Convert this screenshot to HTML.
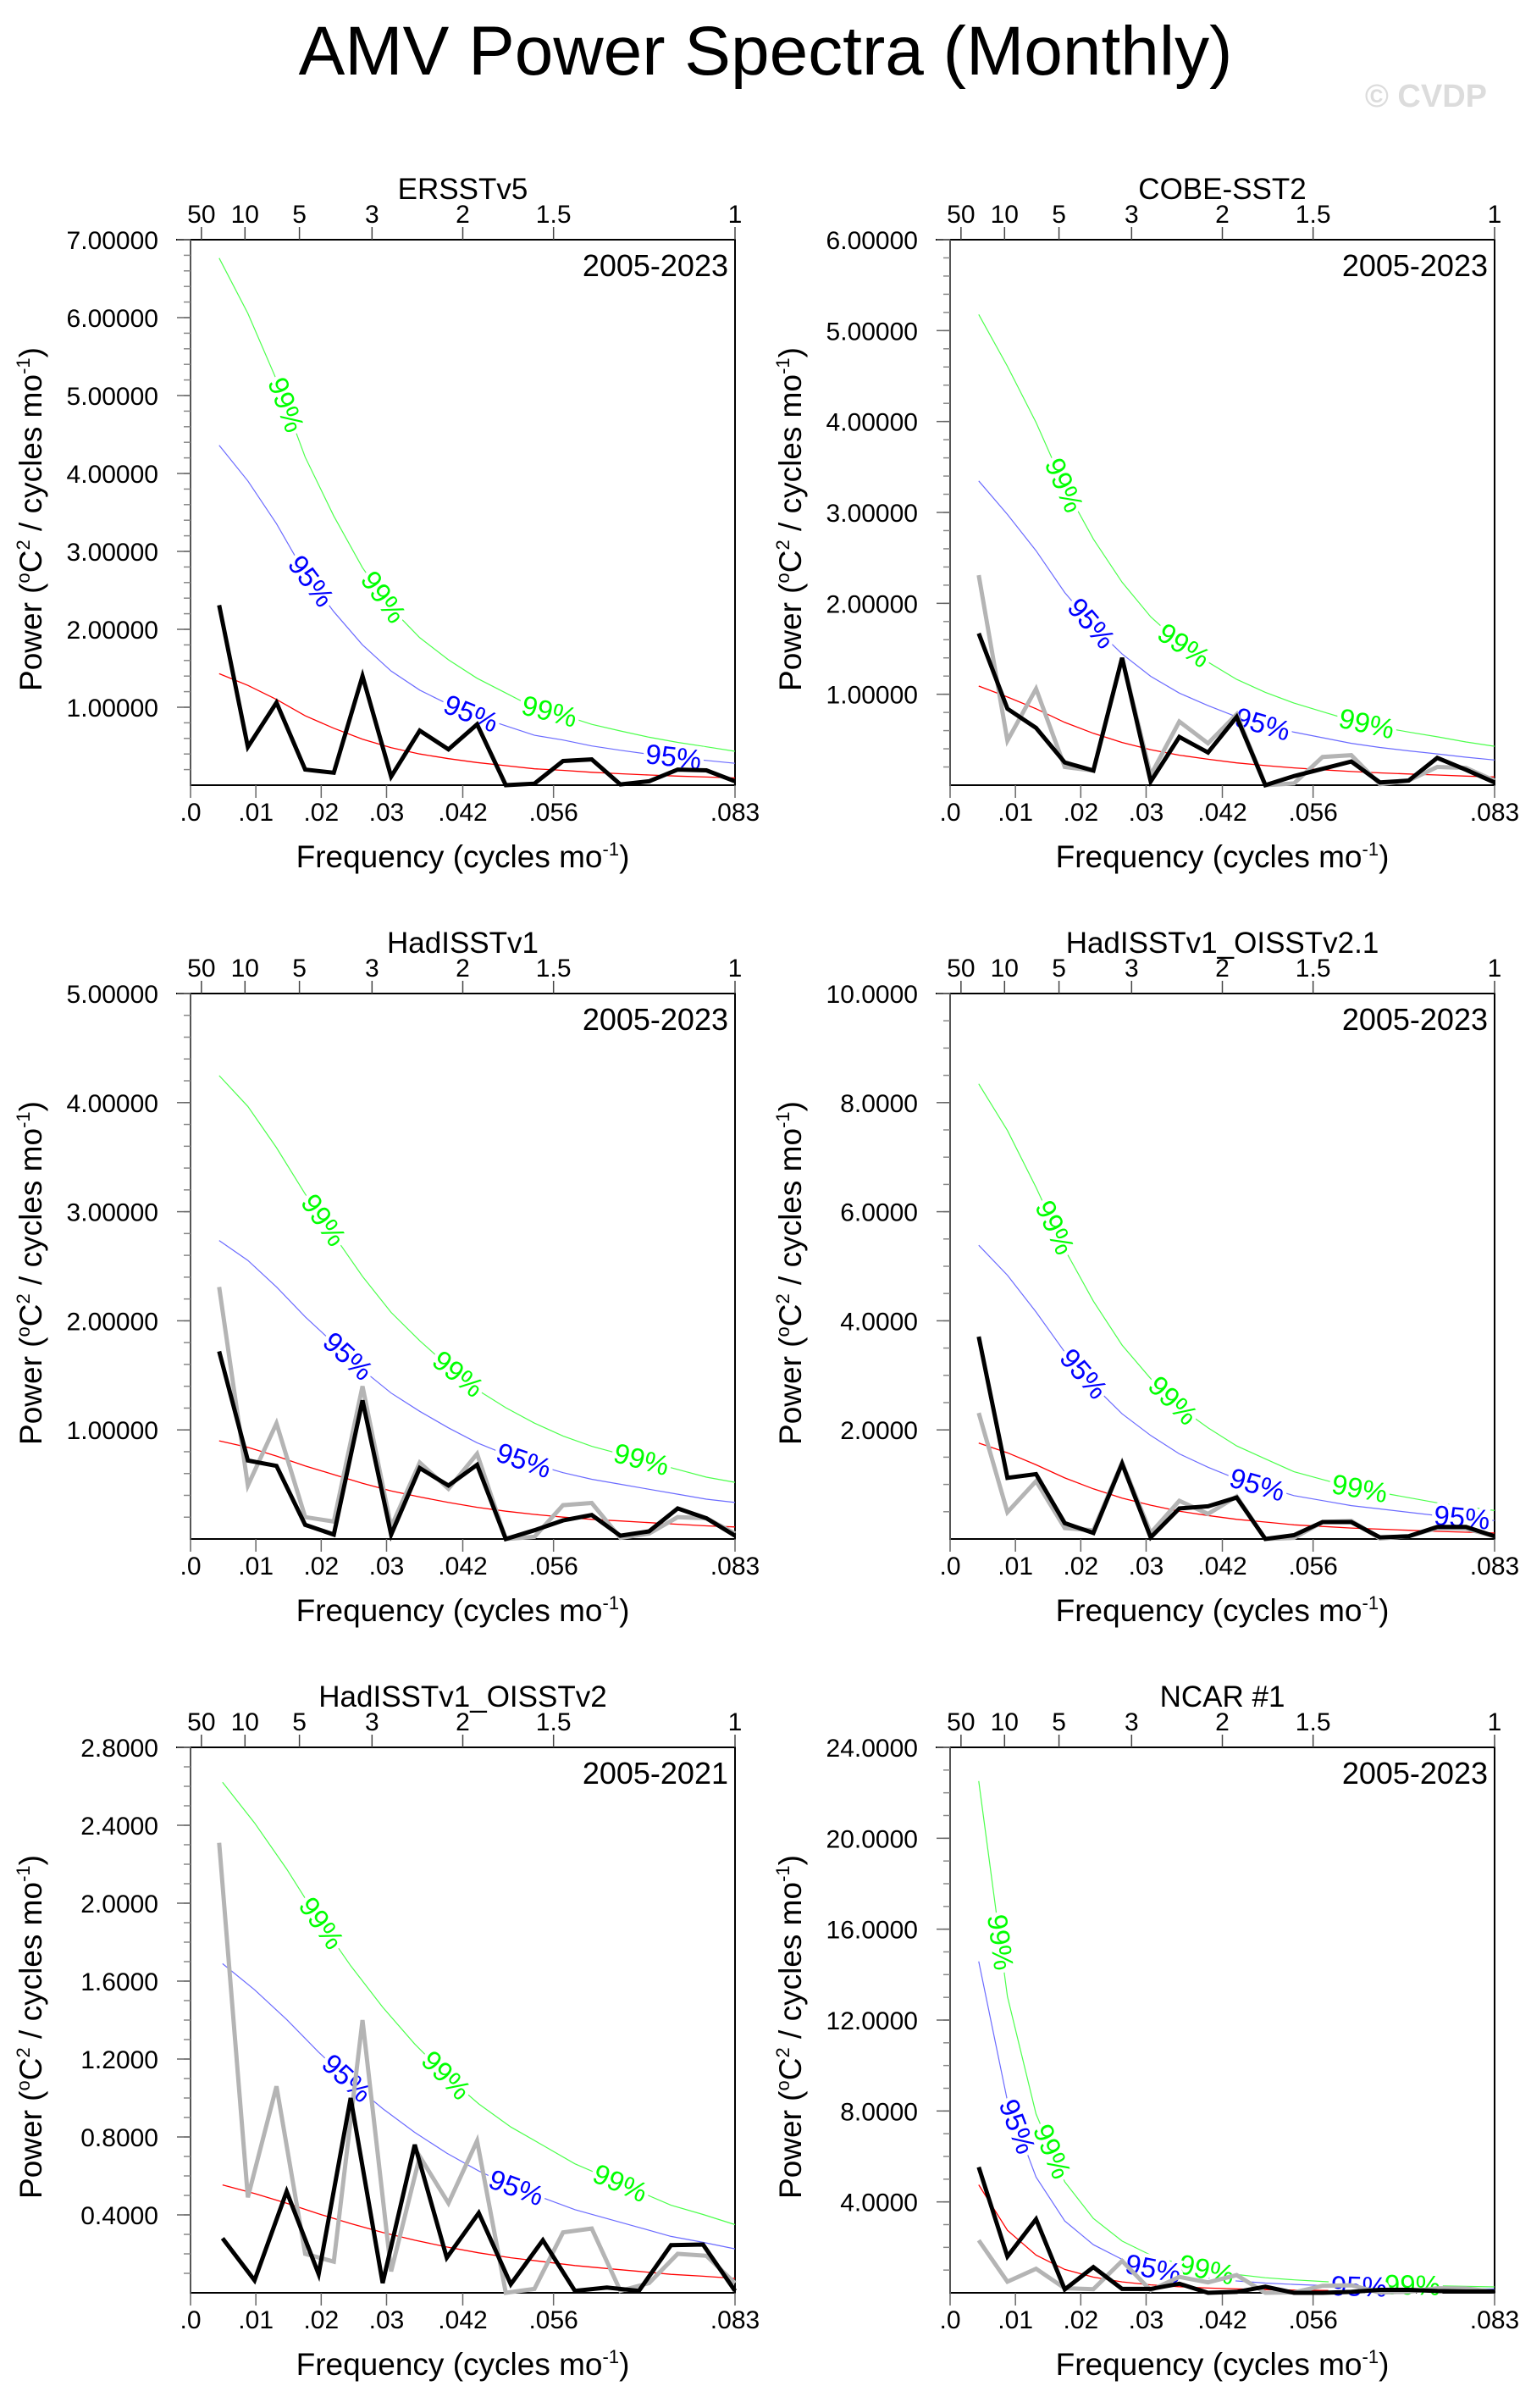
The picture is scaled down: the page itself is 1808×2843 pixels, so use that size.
<!DOCTYPE html>
<html><head><meta charset="utf-8">
<style>
html,body{margin:0;padding:0;background:#fff;}
svg{display:block;font-family:"Liberation Sans",Arial,sans-serif;}
</style></head>
<body>
<svg id="chart" width="1808" height="2843" viewBox="0 0 1808 2843" xmlns="http://www.w3.org/2000/svg">
<rect x="0" y="0" width="1808" height="2843" fill="#fff"/>
<text x="904" y="88" font-size="82" text-anchor="middle" fill="#000">AMV Power Spectra (Monthly)</text>
<text x="1756" y="126" font-size="38" font-weight="bold" text-anchor="end" fill="#dcdcdc">© CVDP</text>
</svg>
<script>
// ---------- data ----------
const topPeriods = [50, 10, 5, 3, 2, 1.5, 1];
const topPeriodLabels = ["50", "10", "5", "3", "2", "1.5", "1"];
const bottomTickVals = [0, 0.01, 0.02, 0.03, 1/24, 1/18, 1/12];
const bottomTickLabels = [".0", ".01", ".02", ".03", ".042", ".056", ".083"];

const ersstValues = [2.31,0.49,1.06,0.20,0.16,1.40,0.11,0.70,0.46,0.78,0.00,0.02,0.31,0.33,0.01,0.05,0.20,0.19,0.05];
const ersstRed = [1.43,1.28,1.10,0.89,0.73,0.59,0.48,0.40,0.34,0.29,0.25,0.21,0.19,0.165,0.147,0.13,0.116,0.104,0.092];

const cobeValues = [1.67,0.84,0.63,0.25,0.16,1.40,0.04,0.53,0.36,0.75,0.00,0.10,0.18,0.26,0.03,0.05,0.30,0.17,0.03];
const cobeRed = [1.09,0.97,0.84,0.69,0.57,0.47,0.39,0.33,0.285,0.245,0.215,0.19,0.17,0.15,0.135,0.123,0.112,0.10,0.09];

const hadValues = [1.72,0.72,0.67,0.13,0.04,1.27,0.04,0.65,0.49,0.68,0.00,0.08,0.17,0.22,0.03,0.07,0.28,0.19,0.03];
const hadRed = [0.90,0.84,0.76,0.67,0.59,0.51,0.44,0.385,0.335,0.29,0.255,0.225,0.20,0.18,0.165,0.15,0.135,0.12,0.11];

const oi21Values = [3.71,1.12,1.19,0.29,0.11,1.38,0.03,0.56,0.60,0.76,0.00,0.07,0.31,0.31,0.03,0.05,0.22,0.22,0.05];
const oi21Red = [1.76,1.58,1.36,1.12,0.92,0.75,0.62,0.51,0.43,0.36,0.31,0.26,0.23,0.20,0.18,0.16,0.14,0.125,0.11];

const oi2Values = [0.28,0.064,0.52,0.096,1.00,0.05,0.76,0.18,0.41,0.044,0.27,0.01,0.027,0.01,0.245,0.248,0.01];
const oi2Red = [0.554,0.51,0.46,0.405,0.355,0.31,0.27,0.235,0.205,0.18,0.16,0.14,0.125,0.11,0.095,0.085,0.074];

const ncarValues = [5.53,1.60,3.24,0.15,1.13,0.17,0.17,0.40,0.00,0.04,0.27,0.00,0.00,0.04,0.13,0.13,0.08,0.06,0.06];
const ncarRed = [4.75,2.75,1.66,1.03,0.69,0.48,0.35,0.27,0.21,0.17,0.14,0.12,0.105,0.09,0.08,0.07,0.065,0.06,0.055];

const sig95Factor = [3.05, 3.07, 3.04, 3.06, 3.05, 3.07];
const sig99Factor = [4.73, 4.75, 4.72, 4.74, 4.73, 4.74];

// ---------- drawing ----------
const NS = "http://www.w3.org/2000/svg";
const svg = document.getElementById("chart");
function mk(tag, attrs, parent) {
  const e = document.createElementNS(NS, tag);
  for (const k in attrs) e.setAttribute(k, attrs[k]);
  (parent || svg).appendChild(e);
  return e;
}

const PW = 643, PH = 644, FMAX = 1/12;
const plots = [
  {name:"ERSSTv5", x0:225, y0:283, ymax:7, major:1, minor:0.2, dec:5, vals:ersstValues, red:ersstRed, nyr:19, gray:null, yrs:"2005-2023",
   l99:[0.175,0.354,0.659], l95:[0.221,0.515,0.887]},
  {name:"COBE-SST2", x0:1122, y0:283, ymax:6, major:1, minor:0.2, dec:5, vals:cobeValues, red:cobeRed, nyr:19, gray:ersstValues, yrs:"2005-2023",
   l99:[0.209,0.429,0.765], l95:[0.259,0.574]},
  {name:"HadISSTv1", x0:225, y0:1173, ymax:5, major:1, minor:0.2, dec:5, vals:hadValues, red:hadRed, nyr:19, gray:ersstValues, yrs:"2005-2023",
   l99:[0.244,0.491,0.828], l95:[0.289,0.612]},
  {name:"HadISSTv1_OISSTv2.1", x0:1122, y0:1173, ymax:10, major:2, minor:0.5, dec:4, vals:oi21Values, red:oi21Red, nyr:19, gray:ersstValues, yrs:"2005-2023",
   l99:[0.192,0.409,0.752], l95:[0.245,0.564,0.94]},
  {name:"HadISSTv1_OISSTv2", x0:225, y0:2063, ymax:2.8, major:0.4, minor:0.1, dec:4, vals:oi2Values, red:oi2Red, nyr:17, gray:ersstValues, yrs:"2005-2021",
   l99:[0.24,0.469,0.789], l95:[0.287,0.598]},
  {name:"NCAR #1", x0:1122, y0:2063, ymax:24, major:4, minor:1, dec:4, vals:ncarValues, red:ncarRed, nyr:19, gray:ersstValues, yrs:"2005-2023",
   l99:[0.092,0.187,0.471,0.849], l95:[0.123,0.373,0.751]}
];

plots.forEach((p, pi) => {
  const g = mk("g", {});
  const slug = p.name.toLowerCase().replace(/[^a-z0-9]+/g, "-").replace(/-$/,"");
  
  
  const xs = f => p.x0 + f / FMAX * PW;
  const ys = v => p.y0 + PH - v / p.ymax * PH;
  const cx = p.x0 + PW/2;

  const fr = mk("path", {d:`M${p.x0-17},${p.y0} H${p.x0+PW} V${p.y0+PH} H${p.x0} V${p.y0}`, fill:"none", stroke:"#000", "stroke-width":2}, g);
  
  
  mk("line", {x1:p.x0, y1:p.y0, x2:p.x0, y2:p.y0+PH, stroke:"#555", "stroke-width":2}, g);

  const nMinor = Math.round(p.ymax / p.minor);
  for (let i = 1; i <= nMinor; i++) {
    const v = i * p.minor, y = ys(v);
    mk("line", {x1:p.x0-8, y1:y, x2:p.x0, y2:y, stroke:"#888", "stroke-width":1.5}, g);
  }
  const nMajor = Math.round(p.ymax / p.major);
  for (let i = 1; i <= nMajor; i++) {
    const v = i * p.major, y = ys(v);
    mk("line", {x1:p.x0-16, y1:y, x2:p.x0, y2:y, stroke:"#666", "stroke-width":1.5}, g);
    const t = mk("text", {x:p.x0-38, y:y+11, "font-size":30, "text-anchor":"end", fill:"#000"}, g);
    
    
    t.textContent = v.toFixed(p.dec);
  }
  bottomTickVals.forEach((f, i) => {
    const x = xs(f);
    mk("line", {x1:x, y1:p.y0+PH, x2:x, y2:p.y0+PH+15, stroke:"#666", "stroke-width":1.5}, g);
    const t = mk("text", {x:x, y:p.y0+PH+42, "font-size":30, "text-anchor":"middle", fill:"#000"}, g);
    
    
    t.textContent = bottomTickLabels[i];
  });
  topPeriods.forEach((P, i) => {
    const x = xs(1/(12*P));
    mk("line", {x1:x, y1:p.y0-15, x2:x, y2:p.y0, stroke:"#444", "stroke-width":1.5}, g);
    const t = mk("text", {x:x, y:p.y0-20, "font-size":30, "text-anchor":"middle", fill:"#000"}, g);
    
    
    t.textContent = topPeriodLabels[i];
  });
  const tt = mk("text", {x:cx, y:p.y0-48, "font-size":35, "text-anchor":"middle", fill:"#000"}, g);
  
  
  tt.textContent = p.name;
  const yr = mk("text", {x:p.x0+PW-8, y:p.y0+43, "font-size":36, "text-anchor":"end", fill:"#000"}, g);
  
  
  yr.textContent = p.yrs;
  const xl = mk("text", {x:cx, y:p.y0+PH+97, "font-size":37, "text-anchor":"middle", fill:"#000"}, g);
  
  
  xl.innerHTML = 'Frequency (cycles mo<tspan dy="-14" font-size="22">-1</tspan><tspan dy="14">)</tspan>';
  const ylx = p.x0 - 188, yly = p.y0 + PH/2 + 8;
  const yl = mk("text", {x:ylx, y:yly, "font-size":37, "text-anchor":"middle", fill:"#000", transform:`rotate(-90 ${ylx} ${yly})`, dy:12}, g);
  
  
  yl.innerHTML = 'Power (<tspan dy="-14" font-size="22">o</tspan><tspan dy="14">C</tspan><tspan dy="-14" font-size="22">2</tspan><tspan dy="14"> / cycles mo</tspan><tspan dy="-14" font-size="22">-1</tspan><tspan dy="14">)</tspan>';

  const N = p.nyr * 12;
  const pts = arr => arr.map((v, k) => [xs((k+1)/N), ys(v)]);
  const ptsN = (arr, n) => arr.map((v, k) => [xs((k+1)/n), ys(v)]);
  const toPath = a => "M" + a.map(q => q[0].toFixed(1) + "," + q[1].toFixed(1)).join(" L");
  const s95 = p.red.map(v => v * sig95Factor[pi]);
  const s99 = p.red.map(v => v * sig99Factor[pi]);
  const redPts = pts(p.red), p95 = pts(s95), p99 = pts(s99);

  const rl = mk("path", {d:toPath(redPts), fill:"none", stroke:"#ff0000", "stroke-width":1.3}, g);
  
  
  const bl = mk("path", {d:toPath(p95), fill:"none", stroke:"#6b6bff", "stroke-width":1.2}, g);
  
  
  const gl = mk("path", {d:toPath(p99), fill:"none", stroke:"#4cff4c", "stroke-width":1.2}, g);
  
  

  function placeLabels(cpts, fracs, txt, color, nm) {
    fracs.forEach(fx => {
      const x = p.x0 + fx * PW;
      let i = 0;
      while (i < cpts.length - 2 && cpts[i+1][0] < x) i++;
      const a = cpts[i], b = cpts[i+1];
      const t = Math.max(0, Math.min(1, (x - a[0]) / (b[0] - a[0])));
      const y = a[1] + t * (b[1] - a[1]);
      const ang = Math.atan2(b[1] - a[1], b[0] - a[0]) * 180 / Math.PI;
      const lt = mk("text", {x:x, y:y+11, "font-size":33, "text-anchor":"middle", fill:color, stroke:"#fff", "stroke-width":9, "paint-order":"stroke", transform:`rotate(${ang.toFixed(1)} ${x} ${y})`}, g);
      
      
      lt.textContent = txt;
    });
  }
  placeLabels(p99, p.l99, "99%", "#00ff00", 'sig-99-label');
  placeLabels(p95, p.l95, "95%", "#0000ff", 'sig-95-label');

  if (p.gray) {
    const gy = mk("path", {d:toPath(ptsN(p.gray, 228)), fill:"none", stroke:"#b4b4b4", "stroke-width":5, "stroke-linejoin":"miter"}, g);
    
    
  }
  const bk = mk("path", {d:toPath(pts(p.vals)), fill:"none", stroke:"#000", "stroke-width":5, "stroke-linejoin":"miter"}, g);
  
  
});
</script>
</body></html>
